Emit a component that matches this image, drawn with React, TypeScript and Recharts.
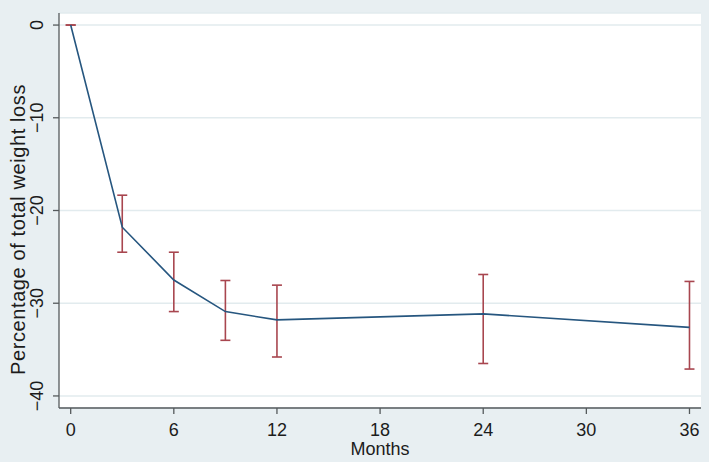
import React from 'react';
import { ComposedChart, Line, XAxis, YAxis, CartesianGrid, ErrorBar, Label } from 'recharts';

const months = [0, 3, 6, 9, 12, 24, 36];
const meanLoss = [0, -21.8, -27.5, -30.9, -31.8, -31.15, -32.6];
const ciUpper = [0, -18.35, -24.5, -27.55, -28.05, -26.9, -27.65];
const ciLower = [0, -24.5, -30.9, -34.0, -35.8, -36.5, -37.1];
const xTicks = [0, 6, 12, 18, 24, 30, 36];
const yTicks = [0, -10, -20, -30, -40];

const data = months.map((m, i) => ({
  month: m,
  value: meanLoss[i],
  err: [meanLoss[i] - ciLower[i], ciUpper[i] - meanLoss[i]],
}));

const FONT = "'Liberation Sans', Arial, sans-serif";
const TEXT = '#1c1c1c';
const AXIS = '#555a5c';
const BG = '#e8eff2';
const GRID = '#e2ebee';

const fmt = (v: number) => (v < 0 ? '\u2212' + Math.abs(v) : String(v));

const YTick = (props: any) => {
  const { x, y, payload } = props;
  const bx = x - 10;
  return (
    <text x={bx} y={y} transform={`rotate(-90, ${bx}, ${y})`} textAnchor="middle" fontSize={18} fill={TEXT} fontFamily={FONT}>
      {fmt(payload.value)}
    </text>
  );
};

const XTick = (props: any) => {
  const { x, y, payload } = props;
  return (
    <text x={x} y={y + 22} textAnchor="middle" fontSize={18} fill={TEXT} fontFamily={FONT}>
      {fmt(payload.value)}
    </text>
  );
};

const XLabel = (props: any) => {
  const { viewBox } = props;
  const cx = viewBox.x + viewBox.width / 2;
  return (
    <text x={cx} y={viewBox.y + 47} textAnchor="middle" fontSize={18} fill={TEXT} fontFamily={FONT}>
      Months
    </text>
  );
};

const YLabel = (props: any) => {
  const { viewBox } = props;
  const bx = viewBox.x + 25;
  const cy = viewBox.y + viewBox.height / 2 + 19;
  return (
    <text x={bx} y={cy} transform={`rotate(-90, ${bx}, ${cy})`} textAnchor="middle" fontSize={20} letterSpacing={0.6} fill={TEXT} fontFamily={FONT}>
      Percentage of total weight loss
    </text>
  );
};

export default function App() {
  return (
    <div style={{ position: 'absolute', left: 0, top: 0, width: 709, height: 462, background: BG }}>
      <ComposedChart width={709} height={462} data={data} margin={{ top: 13, right: 8, left: 0, bottom: 0 }}>
        <CartesianGrid vertical={false} stroke={GRID} strokeWidth={1.5} fill="#ffffff" />
        <XAxis
          dataKey="month"
          type="number"
          domain={[-0.68, 36.67]}
          ticks={xTicks}
          allowDataOverflow
          height={54}
          tickSize={6}
          tickMargin={0}
          stroke={AXIS}
          strokeWidth={1.3}
          tick={<XTick />}
          interval={0}
        >
          <Label content={<XLabel />} />
        </XAxis>
        <YAxis
          type="number"
          domain={[-41.3, 1.3]}
          ticks={yTicks}
          allowDataOverflow
          width={59}
          tickSize={6}
          tickMargin={0}
          stroke={AXIS}
          strokeWidth={1.3}
          tick={<YTick />}
          interval={0}
        >
          <Label content={<YLabel />} />
        </YAxis>
        <Line
          dataKey="value"
          type="linear"
          stroke="#26567f"
          strokeWidth={1.6}
          dot={false}
          activeDot={false}
          isAnimationActive={false}
        >
          <ErrorBar dataKey="err" width={5} stroke="#a8464f" strokeWidth={1.6} direction="y" isAnimationActive={false} />
        </Line>
      </ComposedChart>
    </div>
  );
}
